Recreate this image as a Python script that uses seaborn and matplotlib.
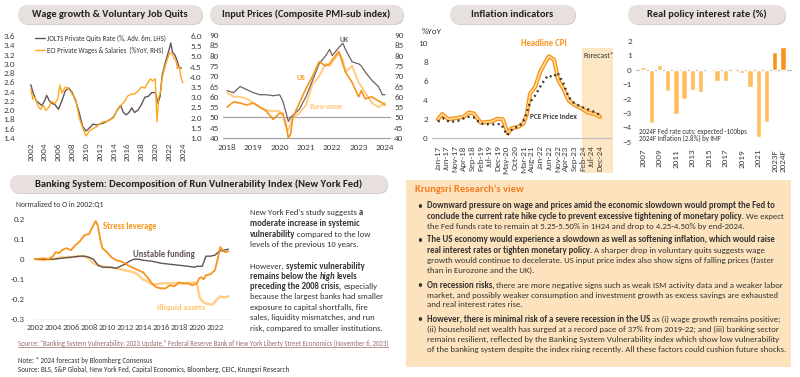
import matplotlib
matplotlib.use("Agg")
import matplotlib.pyplot as plt
import seaborn as sns
import pandas as pd
from matplotlib.patches import FancyBboxPatch, Rectangle

# ---------------- DATA ----------------
jolts_x = [2002.0, 2002.4, 2002.8, 2003.2, 2003.6, 2004.0, 2004.3, 2004.7, 2005.0, 2005.5, 2006.0, 2006.5,
           2007.0, 2007.5, 2008.0, 2008.5, 2009.0, 2009.5, 2010.0, 2010.5, 2011.0, 2011.5, 2012.0, 2012.5,
           2013.0, 2013.5, 2014.0, 2014.5, 2015.0, 2015.4, 2015.8, 2016.2, 2016.6, 2017.0, 2017.5, 2018.0,
           2018.5, 2019.0, 2019.5, 2020.0, 2020.4, 2020.7, 2021.0, 2021.5, 2022.0, 2022.25, 2022.5, 2022.8,
           2023.1, 2023.4, 2023.75]
jolts_v = [2.55, 2.35, 2.2, 2.15, 2.1, 2.2, 2.32, 2.2, 2.15, 2.12, 2.02, 2.2,
           2.42, 2.48, 2.38, 2.2, 1.95, 1.65, 1.55, 1.62, 1.7, 1.68, 1.7, 1.72,
           1.76, 1.8, 1.86, 2.0, 2.1, 1.95, 1.9, 1.95, 2.05, 1.95, 2.0, 2.12,
           2.28, 2.3, 2.38, 2.38, 2.15, 2.3, 2.75, 3.05, 3.3, 3.45, 3.25, 3.2,
           3.1, 2.95, 2.9]
eci_x = [2002.0, 2002.3, 2002.6, 2003.0, 2003.4, 2003.8, 2004.2, 2004.6, 2005.0, 2005.5, 2005.9, 2006.2,
         2006.5, 2007.0, 2007.5, 2008.0, 2008.5, 2009.0, 2009.5, 2010.0, 2010.5, 2011.0, 2011.5, 2012.0,
         2012.5, 2013.0, 2013.5, 2014.0, 2014.5, 2015.0, 2015.5, 2016.0, 2016.5, 2017.0, 2017.5, 2018.0,
         2018.5, 2019.0, 2019.3, 2019.6, 2020.0, 2020.25, 2020.5, 2020.8, 2021.0, 2021.5, 2022.0, 2022.4,
         2022.7, 2023.0, 2023.2, 2023.5, 2023.7, 2024.0]
eci_v = [3.4, 2.9, 3.0, 2.6, 2.4, 2.6, 2.35, 2.5, 2.8, 2.7, 2.9, 3.6,
         3.2, 3.5, 3.4, 3.15, 2.9, 2.0, 1.5, 1.1, 1.35, 1.45, 1.55, 1.7,
         1.8, 1.8, 1.9, 2.0, 2.4, 2.6, 2.75, 3.05, 3.15, 3.15, 3.3, 3.5,
         3.45, 3.75, 3.9, 3.8, 3.9, 1.8, 3.0, 3.3, 3.95, 4.6, 5.1, 5.2,
         4.9, 4.8, 4.4, 4.5, 4.0, 3.7]

pmi_x = [2018.0, 2018.25, 2018.5, 2018.75, 2019.0, 2019.25, 2019.5, 2019.75, 2020.0, 2020.12, 2020.25,
         2020.33, 2020.42, 2020.5, 2020.75, 2021.0, 2021.25, 2021.5, 2021.75, 2021.9, 2022.0, 2022.25,
         2022.4, 2022.5, 2022.75, 2023.0, 2023.1, 2023.25, 2023.5, 2023.75, 2023.9, 2024.0]
uk_v = [63, 62, 65, 63.5, 62, 61, 61, 60.5, 61, 58, 52,
        48, 50, 51, 54, 60, 68, 76, 80, 83, 80, 84,
        86, 83, 77, 76, 75, 72, 68, 65, 61, 61]
us_v = [55, 57.5, 57, 56, 57, 55, 53, 49, 52, 52, 46,
        40, 42, 50, 57, 64, 70, 77, 75, 76, 78, 82,
        76, 72, 67, 60, 63, 59, 60, 58, 57, 56]
ez_v = [62, 60, 60, 59, 57, 55, 53.5, 53, 53, 51, 45,
        44, 47, 50, 52, 56, 66, 70, 76, 75, 77, 81,
        78, 72, 75, 67, 65, 62, 57, 55, 56, 57]

cpi_m = [0, 2.5, 6, 12, 15, 18, 21, 25, 31, 35, 38, 41, 43, 47, 50, 52, 54, 57, 60, 63, 65, 68,
         70.5, 73.5, 76.5, 80, 84, 88, 92, 95]
cpi_v = [2.0, 2.55, 2.0, 2.15, 2.25, 2.7, 2.6, 1.65, 1.75, 2.05, 2.0, 0.5, 1.05, 1.2, 1.55, 2.45,
         4.7, 5.4, 7.0, 8.0, 8.6, 8.25, 6.1, 5.2, 4.0, 3.5, 3.15, 2.7, 2.55, 2.25]
pce_m = [0, 3, 7, 12, 17, 21, 25, 31, 37, 40.5, 44, 48, 51, 54, 57, 61, 64.5, 67.5, 70, 73.5,
         76.5, 80, 84, 90, 95]
pce_v = [1.75, 2.1, 1.7, 1.85, 2.25, 2.2, 1.55, 1.45, 1.5, 0.35, 1.05, 1.3, 2.1, 3.8, 4.5, 5.75,
         6.6, 6.4, 6.9, 5.75, 4.35, 3.65, 3.3, 2.9, 2.45]
month_labels = ["Jan-17", "Jun-17", "Nov-17", "Apr-18", "Sep-18", "Feb-19", "Jul-19", "Dec-19",
                "May-20", "Oct-20", "Mar-21", "Aug-21", "Jan-22", "Jun-22", "Nov-22", "Apr-23",
                "Sep-23", "Feb-24", "Jul-24", "Dec-24"]

bar_years = ["2007", "2008", "2009", "2010", "2011", "2012", "2013", "2014", "2015", "2016", "2017",
             "2018", "2019", "2020", "2021", "2022", "2023F", "2024F"]
bar_vals = [0.2, -3.7, 0.35, -1.5, -3.1, -2.0, -1.4, -1.55, 0.05, -0.75, -0.8, -0.05, -0.25, -1.2,
            -4.65, -3.65, 1.22, 1.55]
bar_kind = ["Actual"] * 16 + ["Forecast"] * 2

sl_x = [2002.0, 2003.0, 2003.5, 2004.0, 2004.3, 2004.7, 2005.0, 2005.5, 2006.0, 2006.5, 2007.0, 2007.5,
        2008.0, 2008.5, 2008.75, 2009.0, 2009.25, 2009.5, 2010.0, 2010.5, 2011.0, 2011.5, 2012.0, 2012.5,
        2013.0, 2013.5, 2014.0, 2014.5, 2015.0, 2015.5, 2016.0, 2016.5, 2017.0, 2017.5, 2018.0, 2018.5,
        2019.0, 2019.5, 2020.0, 2020.25, 2020.5, 2020.75, 2021.0, 2021.5, 2022.0, 2022.3, 2022.6, 2022.9,
        2023.2, 2023.5]
sl_v = [0.0, 0.005, 0.0, 0.015, 0.035, 0.03, 0.045, 0.055, 0.045, 0.07, 0.09, 0.12,
        0.125, 0.17, 0.19, 0.165, 0.10, 0.055, 0.035, 0.01, -0.005, -0.01, -0.02, -0.035,
        -0.045, -0.055, -0.065, -0.09, -0.12, -0.14, -0.145, -0.145, -0.13, -0.135, -0.115, -0.12,
        -0.12, -0.13, -0.12, -0.095, -0.09, -0.1, -0.08, -0.075, -0.055, 0.0, 0.06, 0.04,
        0.035, 0.04]
uf_x = [2002.0, 2003.0, 2004.0, 2005.0, 2006.0, 2007.0, 2007.5, 2008.0, 2008.5, 2009.0, 2009.5, 2010.0,
        2010.5, 2011.0, 2011.5, 2012.0, 2012.5, 2013.0, 2013.5, 2014.0, 2015.0, 2016.0, 2017.0, 2018.0,
        2019.0, 2019.8, 2020.0, 2020.3, 2020.6, 2020.8, 2021.0, 2021.5, 2022.0, 2022.5, 2023.0, 2023.5]
uf_v = [0.0, 0.0, 0.0, 0.005, 0.01, 0.015, 0.015, 0.01, 0.0, -0.03, -0.04, -0.04,
        -0.04, -0.045, -0.035, -0.025, -0.01, 0.0, 0.0, -0.005, -0.01, -0.02, -0.025, -0.03,
        -0.035, -0.04, -0.035, -0.035, -0.035, -0.01, 0.015, 0.015, 0.02, 0.04, 0.045, 0.05]
ia_x = [2002.0, 2003.0, 2004.0, 2005.0, 2006.0, 2007.0, 2007.5, 2008.0, 2008.5, 2009.0, 2009.5, 2010.0,
        2011.0, 2011.5, 2012.0, 2012.5, 2013.0, 2013.5, 2014.0, 2014.5, 2015.0, 2015.5, 2016.0, 2017.0,
        2018.0, 2019.0, 2019.8, 2020.0, 2020.3, 2020.6, 2021.0, 2021.5, 2021.8, 2022.2, 2022.6, 2023.0,
        2023.5]
ia_v = [0.0, -0.005, 0.0, 0.01, 0.01, 0.015, 0.015, 0.005, -0.02, -0.03, -0.035, -0.04,
        -0.045, -0.05, -0.055, -0.06, -0.065, -0.08, -0.1, -0.11, -0.125, -0.125, -0.12, -0.12,
        -0.12, -0.12, -0.115, -0.12, -0.19, -0.21, -0.22, -0.225, -0.225, -0.2, -0.185, -0.19,
        -0.185]

# ---------------- STYLE ----------------
sns.set_theme(style="white")
plt.rcParams["font.family"] = ["Carlito", "DejaVu Sans"]
ORANGE = "#F7941D"
LIGHT = "#FFCF88"
GRAY = "#625557"
TXT = "#333333"
TICK = "#404040"
TFS = 6.6

W, H = 800, 377
fig = plt.figure(figsize=(8, 3.77), dpi=100)
fig.patch.set_facecolor("white")
bg = fig.add_axes([0, 0, 1, 1], zorder=0)
bg.set_xlim(0, W)
bg.set_ylim(H, 0)
bg.axis("off")
renderer = fig.canvas.get_renderer()


def text_w(s, **kw):
    t = bg.text(0, 0, "x" + s + "x", **kw)
    w1 = t.get_window_extent(renderer).width
    t.remove()
    t = bg.text(0, 0, "xx", **kw)
    w0 = t.get_window_extent(renderer).width
    t.remove()
    return w1 - w0


def fit(s, target, **kw):
    return 8.0 * target / text_w(s, fontsize=8.0, **kw)


def add_ax(x0, y0, x1, y1):
    ax = fig.add_axes([x0 / W, 1 - y1 / H, (x1 - x0) / W, (y1 - y0) / H], zorder=1)
    ax.patch.set_alpha(0)
    for s in ax.spines.values():
        s.set_visible(False)
    ax.tick_params(length=0, colors=TICK, labelsize=TFS, pad=3)
    return ax


def pill(x0, y0, x1, y1, title, tw):
    h = y1 - y0
    bg.add_patch(FancyBboxPatch((x0 + 1, y0 + 1), x1 - x0, h,
                                boxstyle="round,pad=0,rounding_size=%f" % (h / 2),
                                fc="#D8CECE", ec="none", zorder=0))
    bg.add_patch(FancyBboxPatch((x0, y0), x1 - x0, h,
                                boxstyle="round,pad=0,rounding_size=%f" % (h / 2),
                                fc="#E8DFDF", ec="none", zorder=1))
    fs = fit(title, tw, fontweight="bold")
    bg.text((x0 + x1) / 2, (y0 + y1) / 2 + 0.25 * fs * 100 / 72, title, fontsize=fs, fontweight="bold",
            color="#222222", ha="center", va="baseline", zorder=2)


def rich(x, y, segs, fs, color=TXT):
    yb = y + 0.25 * fs * 100 / 72
    for s, wt, st in segs:
        lead = len(s) - len(s.lstrip())
        xs = x + (text_w(" " * lead, fontsize=fs, fontweight=wt, fontstyle=st) if lead else 0)
        bg.text(xs, yb, s.lstrip(), fontsize=fs, fontweight=wt, fontstyle=st, color=color,
                ha="left", va="baseline", zorder=3)
        x += text_w(s, fontsize=fs, fontweight=wt, fontstyle=st)


def label(ax, x, y, s, target, color, ha="center", weight="bold"):
    fs = fit(s, target, fontweight=weight)
    ax.text(x, y, s, fontsize=fs, fontweight=weight, color=color, ha=ha, va="center")


# ---------------- PILLS ----------------
pill(18, 5, 202, 24, "Wage growth & Voluntary Job Quits", 156)
pill(210, 5, 403, 24, "Input Prices (Composite PMI-sub index)", 169)
pill(450, 5, 575, 24, "Inflation indicators", 82)
pill(628, 5, 785, 24, "Real policy interest rate (%)", 119)
pill(10, 175, 387, 193, "Banking System: Decomposition of Run Vulnerability Index (New York Fed)", 327)

# ---------------- CHART 1: wage ----------------
ax1 = add_ax(19, 36, 186, 138)
sns.lineplot(x=jolts_x, y=jolts_v, ax=ax1, color=GRAY, lw=1.0)
ax1.set_xlim(2000.3, 2024.45)
ax1.set_ylim(1.4, 3.6)
ax1.set_yticks([1.4 + 0.2 * i for i in range(12)])
ax1.set_yticklabels(["%.1f" % (1.4 + 0.2 * i) for i in range(12)])
ax1.set_xticks(list(range(2002, 2025, 2)))
ax1.set_xticklabels([str(y) for y in range(2002, 2025, 2)], rotation=90)
ax1.axhline(1.4, color="#BFBFBF", lw=0.8)
ax1b = ax1.twinx()
ax1b.patch.set_alpha(0)
for s in ax1b.spines.values():
    s.set_visible(False)
sns.lineplot(x=eci_x, y=eci_v, ax=ax1b, color="#FFA81F", lw=1.0)
ax1b.set_ylim(1.0, 6.0)
ax1b.set_yticks([1.0 + 0.5 * i for i in range(11)])
ax1b.set_yticklabels(["%.1f" % (1.0 + 0.5 * i) for i in range(11)])
ax1b.tick_params(length=0, colors=TICK, labelsize=TFS, pad=3)
ax1b.set_ylabel("")
bg.plot([35, 45], [38, 38], color=GRAY, lw=1.0, zorder=3)
bg.plot([35, 45], [50, 50], color="#FFA81F", lw=1.0, zorder=3)
lfs = fit("JOLTS Private Quits Rate (%, Adv. 6m, LHS)", 119)
bg.text(47, 38, "JOLTS Private Quits Rate (%, Adv. 6m, LHS)", fontsize=lfs, color=TXT, va="center", zorder=3)
bg.text(47, 50, "ECI Private Wages & Salaries  (%YoY, RHS)", fontsize=lfs, color=TXT, va="center", zorder=3)

# ---------------- CHART 2: input prices ----------------
ax2 = add_ax(223, 35, 390, 138)
ax2.axhline(50, color="#A6A6A6", lw=0.9)
ax2.axhline(40, color="#A6A6A6", lw=0.9)
sns.lineplot(x=pmi_x, y=ez_v, ax=ax2, color=LIGHT, lw=1.5)
sns.lineplot(x=pmi_x, y=uk_v, ax=ax2, color="#6D6163", lw=0.9)
sns.lineplot(x=pmi_x, y=us_v, ax=ax2, color=ORANGE, lw=1.2)
ax2.set_xlim(2017.85, 2024.19)
ax2.set_ylim(40, 90)
ax2.set_yticks(list(range(40, 91, 5)))
ax2.set_xticks(list(range(2018, 2025)))
ax2.set_xticklabels([str(y) for y in range(2018, 2025)])
ax2.tick_params(axis="x", pad=4)
for l in ax2.get_lines():
    l.set_clip_on(False)
ax2b = ax2.twinx()
ax2b.patch.set_alpha(0)
for s in ax2b.spines.values():
    s.set_visible(False)
ax2b.set_ylim(40, 90)
ax2b.set_yticks(list(range(40, 91, 5)))
ax2b.tick_params(length=0, colors=TICK, labelsize=TFS, pad=3)
label(ax2, 2022.45, 88, "UK", 9, "#6D6163")
label(ax2, 2020.8, 69.5, "US", 9, ORANGE)
label(ax2, 2021.76, 55.2, "Euro-zone", 33, "#FFC46A")

# ---------------- CHART 3: inflation ----------------
bg.add_patch(Rectangle((582, 48), 31, 125, fc="#FDE6C4", ec="none", zorder=0))
ffs = fit("Forecast*", 31)
bg.text(583, 55, "Forecast*", fontsize=ffs, color=TXT, va="center", zorder=2)
bg.text(422, 32, "%YoY", fontsize=fit("%YoY", 20), color=TXT, va="center", zorder=2)
ax3 = add_ax(432, 38.2, 612, 141.2)
ax3.axhline(0, color="#BFBFBF", lw=0.9)
sns.lineplot(x=cpi_m, y=cpi_v, ax=ax3, color=ORANGE, lw=3.0)
sns.lineplot(x=cpi_m, y=cpi_v, ax=ax3, color="#FFE7A8", lw=1.0)
sns.lineplot(x=pce_m, y=pce_v, ax=ax3, color="#3A3132", lw=1.7, linestyle=(0, (0.8, 1.5)))
ax3.set_xlim(-3.5, 102)
ax3.set_ylim(-0.3, 10.5)
ax3.set_yticks([0, 2, 4, 6, 8, 10])
ax3.set_xticks(list(range(0, 96, 5)))
ax3.set_xticklabels(month_labels, rotation=90)
label(ax3, 61.9, 9.9, "Headline CPI", 46, ORANGE)
label(ax3, 67.6, 2.27, "PCE Price Index", 47, "#3F3F3F")

# ---------------- CHART 4: real policy rate ----------------
ax4 = add_ax(636, 35.2, 792, 144.6)
df_bar = pd.DataFrame({"year": bar_years, "rate": bar_vals, "kind": bar_kind})
sns.barplot(data=df_bar, x="year", y="rate", hue="kind", palette={"Actual": "#FFBF5F", "Forecast": ORANGE},
            dodge=False, width=0.65, saturation=1, legend=False, ax=ax4)
ax4.axhline(0, color="#BFBFBF", lw=0.9, zorder=0.5)
ax4.set_xlim(-0.85, 18.1)
ax4.set_ylim(-5.2, 2.4)
ax4.set_yticks(list(range(-5, 3)))
tick_idx = [0, 2, 4, 6, 8, 10, 12, 14, 16, 17]
ax4.set_xticks(tick_idx)
ax4.set_xticklabels([bar_years[i] for i in tick_idx], rotation=90)
ax4.set_xlabel("")
ax4.set_ylabel("")
afs = fit("2024F Fed rate cuts: expected -100bps", 108)
bg.text(639, 131.7, "2024F Fed rate cuts: expected -100bps", fontsize=afs, color=TXT, va="center", zorder=3)
bg.text(639, 138.3, "2024F Inflation (2.8%) by IMF", fontsize=afs, color=TXT, va="center", zorder=3)

# ---------------- CHART 5: banking ----------------
bg.text(16, 205, "Normalized to O in 2002:Q1", fontsize=fit("Normalized to O in 2002:Q1", 88), color=TXT,
        va="center", zorder=3)
ax5 = add_ax(33, 215, 232, 319.5)
ax5.axhline(-0.3, color="#A6A6A6", lw=0.9)
sns.lineplot(x=ia_x, y=ia_v, ax=ax5, color=LIGHT, lw=1.8)
sns.lineplot(x=uf_x, y=uf_v, ax=ax5, color=GRAY, lw=1.0)
sns.lineplot(x=sl_x, y=sl_v, ax=ax5, color=ORANGE, lw=1.3)
ax5.set_xlim(2001.78, 2023.9)
ax5.set_ylim(-0.3, 0.22)
ax5.set_yticks([-0.3, -0.2, -0.1, 0, 0.1, 0.2])
ax5.set_yticklabels(["-0.3", "-0.2", "-0.1", "0", "0.1", "0.2"])
ax5.set_xticks(list(range(2002, 2023, 2)))
ax5.set_xticklabels([str(y) for y in range(2002, 2023, 2)])
ax5.tick_params(axis="x", labelsize=6.1, pad=3)
ax5.tick_params(axis="y", labelsize=6.4, pad=6)
label(ax5, 2009.55, 0.165, "Stress leverage", 54, ORANGE, ha="left")
label(ax5, 2012.9, 0.025, "Unstable funding", 62, GRAY, ha="left")
label(ax5, 2015.55, -0.24, "Illiquid assets", 48, "#FFC46A", ha="left")

pfs = fit("risk, compared to smaller institutions.", 133)
B, R, I = "bold", "normal", "italic"
para = [
    (213, [("New York Fed’s study suggests ", R, "normal"), ("a", B, "normal")]),
    (224, [("moderate increase in systemic", B, "normal")]),
    (234.5, [("vulnerability", B, "normal"), (" compared to the low", R, "normal")]),
    (245, [("levels of the previous 10 years.", R, "normal")]),
    (266.7, [("However, ", R, "normal"), ("systemic vulnerability", B, "normal")]),
    (277, [("remains below the ", B, "normal"), ("high", B, I), (" levels", B, "normal")]),
    (287, [("preceding the 2008 crisis,", B, "normal"), (" especially", R, "normal")]),
    (297.3, [("because the largest banks had smaller", R, "normal")]),
    (307.5, [("exposure to capital shortfalls, fire", R, "normal")]),
    (318, [("sales, liquidity mismatches, and run", R, "normal")]),
    (328.5, [("risk, compared to smaller institutions.", R, "normal")]),
]
for y, segs in para:
    rich(250, y, segs, pfs)

# ---------------- KRUNGSRI BOX ----------------
bg.add_patch(Rectangle((406, 180), 385, 187, fc="#FDE3BD", ec="none", zorder=0))
bg.text(415, 189, "Krungsri Research’s view", fontsize=fit("Krungsri Research’s view", 108, fontweight="bold"),
        fontweight="bold", color="#F47B20", va="center", zorder=3)
bfs = min(fit("of the banking system despite the index rising recently. All these factors could cushion future shocks.", 355),
          fit("Downward pressure on wage and prices amid the economic slowdown would prompt the Fed to", 355,
              fontweight="bold"))
box = [
    (206, True, [("Downward pressure on wage and prices amid the economic slowdown would prompt the Fed to", B, "normal")]),
    (216.5, False, [("conclude the current rate hike cycle to prevent excessive tightening of monetary policy.", B, "normal"),
                    (" We expect", R, "normal")]),
    (226.7, False, [("the Fed funds rate to remain at 5.25-5.50% in 1H24 and drop to 4.25-4.50% by end-2024.", R, "normal")]),
    (240, True, [("The US economy would experience a slowdown as well as softening inflation, which would raise", B, "normal")]),
    (250.5, False, [("real interest rates or tighten monetary policy.", B, "normal"),
                    (" A sharper drop in voluntary quits suggests wage", R, "normal")]),
    (260.7, False, [("growth would continue to decelerate. US input price index also show signs of falling prices (faster", R, "normal")]),
    (270.7, False, [("than in Eurozone and the UK).", R, "normal")]),
    (285.5, True, [("On recession risks,", B, "normal"),
                   (" there are more negative signs such as weak ISM activity data and a weaker labor", R, "normal")]),
    (295.5, False, [("market, and possibly weaker consumption and investment growth as excess savings are exhausted", R, "normal")]),
    (305.3, False, [("and real interest rates rise.", R, "normal")]),
    (319.5, True, [("However, there is minimal risk of a severe recession in the US", B, "normal"),
                   (" as (i) wage growth remains positive;", R, "normal")]),
    (329.5, False, [("(ii) household net wealth has surged at a record pace of 37% from 2019-22; and (iii) banking sector", R, "normal")]),
    (339.5, False, [("remains resilient, reflected by the Banking System Vulnerability index which show low vulnerability", R, "normal")]),
    (349.8, False, [("of the banking system despite the index rising recently. All these factors could cushion future shocks.", R, "normal")]),
]
for y, bullet, segs in box:
    if bullet:
        bg.text(417, y, "•", fontsize=bfs * 1.1, color=TXT, ha="left", va="center", zorder=3)
    rich(427, y, segs, bfs)

# ---------------- FOOTER ----------------
src1 = "Source: “Banking System Vulnerability: 2023 Update,” Federal Reserve Bank of New York Liberty Street Economics (November 6, 2023)"
sfs = fit(src1, 370)
bg.text(18, 343, src1, fontsize=sfs, color="#9C6A6A", va="center", zorder=3)
bg.plot([18, 388], [346.6, 346.6], color="#9C6A6A", lw=0.5, zorder=3)
src2 = "Source: BLS, S&P Global, New York Fed, Capital Economics, Bloomberg, CEIC, Krungsri Research"
nfs = fit(src2, 269)
bg.text(18, 360, "Note: * 2024 forecast by Bloomberg Consensus", fontsize=nfs, color=TXT, va="center", zorder=3)
bg.text(18, 369, src2, fontsize=nfs, color=TXT, va="center", zorder=3)

fig.savefig("out.png", dpi=100)
